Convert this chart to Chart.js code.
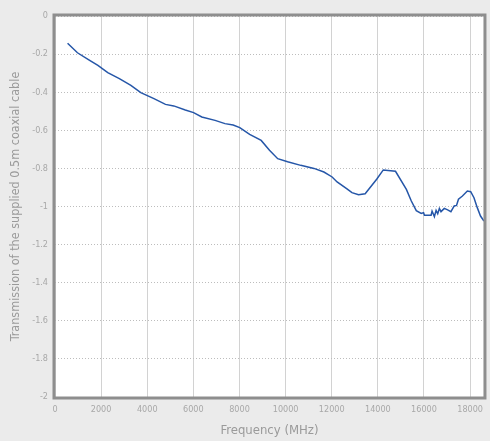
<!DOCTYPE html>
<html>
<head>
<meta charset="utf-8">
<script src="https://cdn.jsdelivr.net/npm/chart.js@4/dist/chart.umd.min.js"></script>
<style>
  html, body { margin: 0; padding: 0; background: #ebebeb; }
  #wrap { width: 490px; height: 441px; position: relative; }
</style>
</head>
<body>
<div id="wrap"><canvas id="c" width="490" height="441"></canvas></div>
<script>
const frequencies = [545, 974, 1502, 1860, 2288, 2790, 3290, 3720, 4290, 4790, 5150, 5650, 6010, 6365, 6940, 7370, 7725, 8012, 8440, 8940, 9300, 9657, 10086, 10657, 11230, 11660, 12017, 12232, 12660, 12876, 13163, 13448, 13948, 14234, 14764, 15236, 15450, 15665, 15880, 15980, 16020, 16308, 16350, 16450, 16524, 16595, 16666, 16738, 16880, 17025, 17167, 17310, 17410, 17495, 17667, 17880, 18025, 18167, 18310, 18450, 18600];
const transmission = [-0.143, -0.193, -0.233, -0.259, -0.297, -0.329, -0.364, -0.402, -0.434, -0.464, -0.472, -0.493, -0.507, -0.530, -0.548, -0.565, -0.572, -0.586, -0.621, -0.653, -0.705, -0.749, -0.765, -0.784, -0.800, -0.819, -0.845, -0.871, -0.907, -0.927, -0.938, -0.933, -0.857, -0.808, -0.815, -0.910, -0.971, -1.022, -1.036, -1.032, -1.046, -1.046, -1.024, -1.053, -1.020, -1.038, -1.010, -1.027, -1.010, -1.018, -1.027, -0.997, -0.994, -0.962, -0.945, -0.919, -0.922, -0.954, -1.006, -1.050, -1.076];
const xTickValues = [0, 2000, 4000, 6000, 8000, 10000, 12000, 14000, 16000, 18000];
const yTickValues = [0, -0.2, -0.4, -0.6, -0.8, -1, -1.2, -1.4, -1.6, -1.8, -2];
const xTitle = 'Frequency (MHz)';
const yTitle = 'Transmission of the supplied 0.5m coaxial cable';

const FONT = "'Liberation Sans Narrow', 'DejaVu Sans Condensed', 'Noto Sans', sans-serif";

const points = frequencies.map((f, i) => ({ x: f, y: transmission[i] }));

const plotDeco = {
  id: 'plotDeco',
  beforeDraw(chart) {
    const { ctx, chartArea: a } = chart;
    ctx.save();
    ctx.fillStyle = '#ffffff';
    ctx.fillRect(a.left, a.top, a.right - a.left, a.bottom - a.top);
    ctx.restore();
  },
  afterDraw(chart) {
    const { ctx, chartArea: a } = chart;
    ctx.save();
    ctx.strokeStyle = '#8e8e8e';
    ctx.lineWidth = 3;
    ctx.strokeRect(a.left - 1, a.top - 1, a.right - a.left + 2, a.bottom - a.top + 2);
    ctx.restore();
  }
};

new Chart(document.getElementById('c'), {
  type: 'line',
  data: {
    datasets: [{
      data: points,
      borderColor: '#2556a8',
      borderWidth: 1.5,
      pointRadius: 0,
      fill: false,
      tension: 0
    }]
  },
  options: {
    responsive: false,
    animation: false,
    layout: { padding: { top: 16, right: 0, left: 0, bottom: 0 } },
    plugins: { legend: { display: false }, tooltip: { enabled: false } },
    scales: {
      x: {
        type: 'linear',
        min: 0,
        max: 18600,
        afterBuildTicks(scale) { scale.ticks = xTickValues.map(v => ({ value: v })); },
        afterFit(scale) { scale.height = 44; },
        border: { display: false },
        grid: { color: '#d2d2d2', lineWidth: 1, drawTicks: false },
        ticks: {
          padding: 7,
          color: '#a8a8a8',
          font: { family: FONT, size: 9 },
          maxRotation: 0,
          autoSkip: false,
          callback: v => String(v)
        },
        title: {
          display: true,
          text: xTitle,
          color: '#9a9a9a',
          font: { family: FONT, size: 13 },
          padding: { top: 0, bottom: 3 }
        }
      },
      y: {
        type: 'linear',
        min: -2,
        max: 0,
        afterBuildTicks(scale) { scale.ticks = yTickValues.map(v => ({ value: v })); },
        afterFit(scale) { scale.width = 55; },
        border: { display: false, dash: [1, 2] },
        grid: { color: '#bdbdbd', lineWidth: 1, drawTicks: false },
        ticks: {
          padding: 7,
          color: '#a8a8a8',
          font: { family: FONT, size: 9 },
          autoSkip: false,
          callback: v => String(Math.round(v * 10) / 10)
        },
        title: {
          display: true,
          text: yTitle,
          color: '#9a9a9a',
          font: { family: FONT, size: 12.5 },
          padding: { top: 8, bottom: 0 }
        }
      }
    }
  },
  plugins: [plotDeco]
});
</script>
</body>
</html>
